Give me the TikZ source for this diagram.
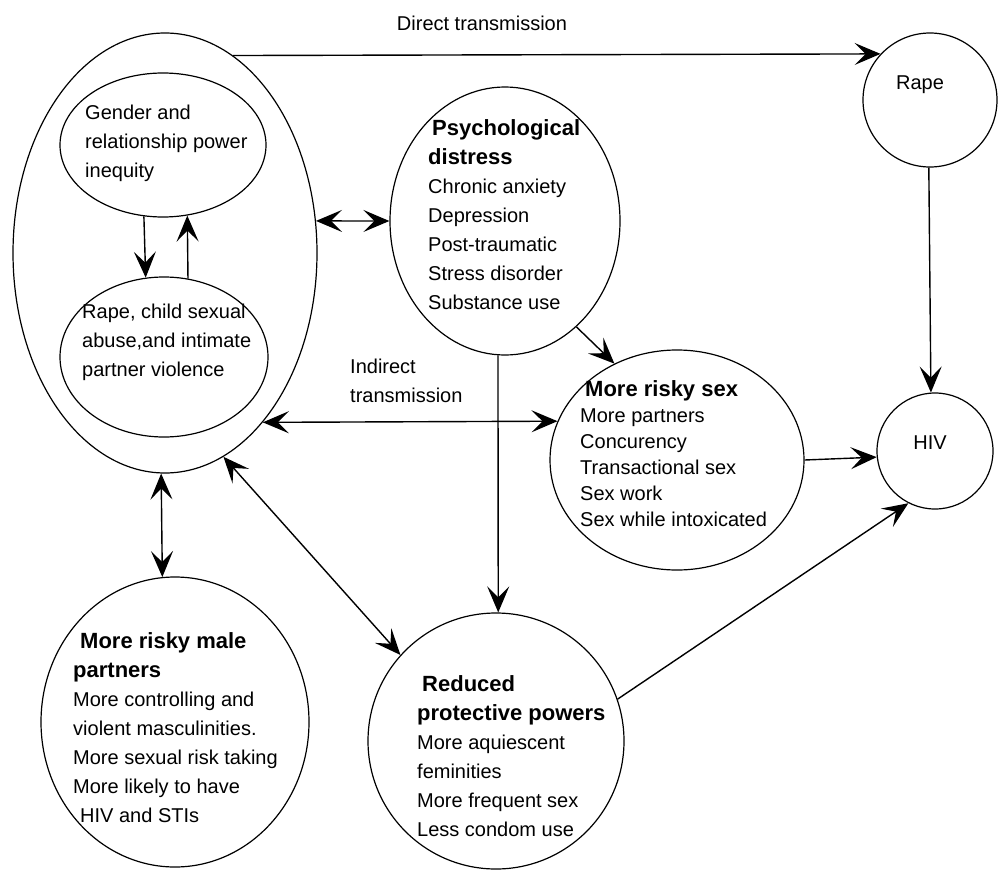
\documentclass[tikz,border=0pt]{standalone}
\usepackage{fontspec}
\setmainfont{Liberation Sans}
\usetikzlibrary{shapes.geometric,arrows.meta}
\tikzset{
  bigtip/.tip={Stealth[length=26pt,width=22pt,inset=11pt]},
}
\begin{document}
\begin{tikzpicture}[x=1pt,y=-1pt,
  bubble/.style={ellipse,draw,line width=1.2pt,inner sep=0pt},
  txt/.style={anchor=north west,inner sep=0pt,align=left,font=\fontsize{20}{29}\selectfont},
  lbl/.style={inner sep=0pt,font=\fontsize{20}{24}\selectfont},
  conn/.style={line width=1.4pt,-bigtip},
  bconn/.style={line width=1.4pt,bigtip-bigtip}
]
\newcommand{\ttl}[1]{{\fontsize{22}{29}\selectfont\bfseries #1}}
\useasboundingbox (0,0) rectangle (998,870);

% bubbles
\node[bubble,minimum width=304pt,minimum height=440pt] (O) at (165,253) {};
\node[bubble,minimum width=206pt,minimum height=144pt] (G) at (163,145) {};
\node[bubble,minimum width=208pt,minimum height=160pt] (C) at (164,357) {};
\node[bubble,minimum width=230pt,minimum height=268pt] (P) at (505,221) {};
\node[bubble,minimum width=254pt,minimum height=220pt] (S) at (677,460) {};
\node[bubble,minimum width=268pt,minimum height=290pt] (M) at (175,722) {};
\node[bubble,minimum width=256pt,minimum height=256pt] (D) at (496,741) {};
\node[bubble,minimum width=134pt,minimum height=134pt] (R) at (930,100) {};
\node[bubble,minimum width=116pt,minimum height=116pt] (H) at (935,451) {};

% texts
\node[txt] (tG) at (85,105) {Gender and\\relationship power\\inequity};
\node[txt] (tC) at (82,304) {Rape, child sexual\\abuse,and intimate\\partner violence};
\node[txt] (tP) at (428,119) {\hspace*{4pt}\ttl{Psychological}\\\ttl{distress}\\Chronic anxiety\\Depression\\Post-traumatic\\Stress disorder\\Substance use};
\node[txt,font=\fontsize{20}{26}\selectfont] (tS) at (580,380) {\hspace*{5pt}\ttl{More risky sex}\\More partners\\Concurency\\Transactional sex\\Sex work\\Sex while intoxicated};
\node[txt] (tM) at (73,632) {\hspace*{7pt}\ttl{More risky male}\\\ttl{partners}\\More controlling and\\violent masculinities.\\More sexual risk taking\\More likely to have\\\hspace*{7pt}HIV and STIs};
\node[txt] (tD) at (417,675) {\hspace*{5pt}\ttl{Reduced}\\\ttl{protective powers}\\More aquiescent\\feminities\\More frequent sex\\Less condom use};
\node[txt] (tI) at (350,359) {Indirect\\transmission};
\node[lbl] (tDir) at (482,23) {Direct transmission};
\node[lbl] (tR) at (920,85) {Rape};
\node[lbl] (tH) at (930,443) {HIV};

% connectors
\draw[conn] (O.71.3) -- (R.137.8);
\draw[bconn] (O.12) -- (P.180);
\draw[bconn] (O.-60.1) -- (S.162.3);
\draw[bconn] (O.269.2) -- (M.95.1);
\draw[bconn] (O.-74.7) -- (D.138.6);
\draw[conn] (P.267) -- (D.89);
\draw[conn] (P.-56.8) -- (S.123.1);
\draw[conn] (S.0.9) -- (H.186.9);
\draw[conn] (R.269.1) -- (H.94);
\draw[conn] (D.19.5) -- (H.243.4);
\draw[conn] (G.255.8) -- (C.103.6);
\draw[conn] (C.73.6) -- (G.-71.1);
\end{tikzpicture}
\end{document}
